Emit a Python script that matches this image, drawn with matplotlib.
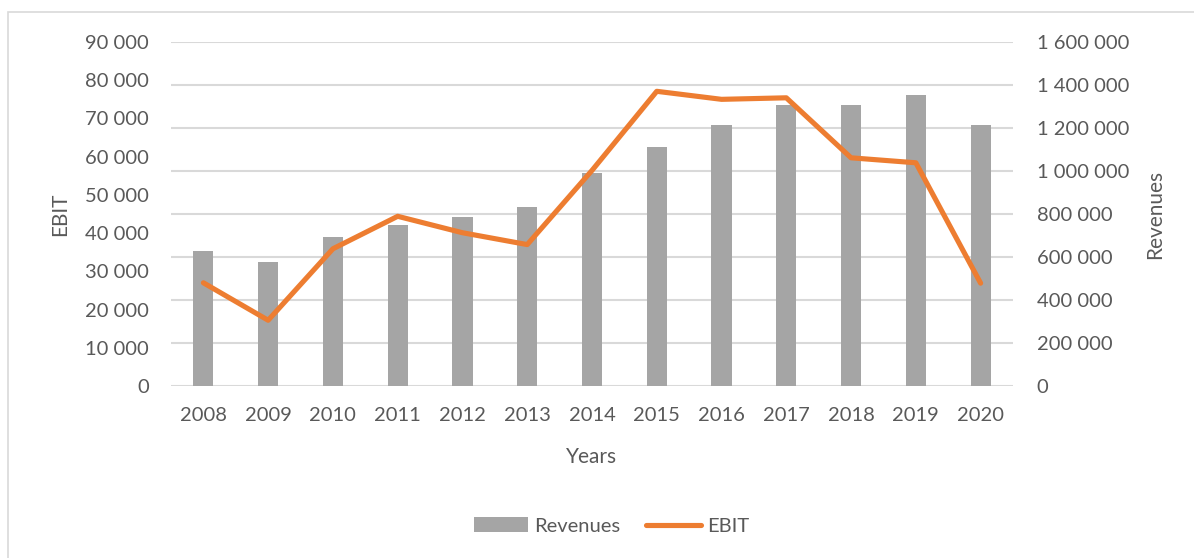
import numpy as np
import matplotlib.pyplot as plt
from matplotlib.patches import Rectangle, Patch
from matplotlib.lines import Line2D
from matplotlib.ticker import FuncFormatter

# 数据
years = ['2008', '2009', '2010', '2011', '2012', '2013', '2014',
         '2015', '2016', '2017', '2018', '2019', '2020']
revenues = [626000, 578000, 691000, 749000, 784000, 831000, 992000,
            1112000, 1212000, 1305000, 1309000, 1352000, 1212000]
ebit = [27000, 17200, 35900, 44400, 40100, 37000, 56400,
        77100, 75000, 75400, 59700, 58400, 26900]

plt.rcParams['font.family'] = ['Lato', 'DejaVu Sans']
txt_color = '#595959'
grid_color = '#d9d9d9'
bar_color = '#a5a5a5'
line_color = '#ed7d31'


def space_fmt(v, pos):
    return f'{int(round(v)):,}'.replace(',', ' ')


fig = plt.figure(figsize=(11.94, 5.58), dpi=100)
# 外框
fig.patches.append(Rectangle((8 / 1194, -0.1), 1.2, 1 - 12 / 558 + 0.1,
                             transform=fig.transFigure, fill=False,
                             edgecolor='#d9d9d9', linewidth=1.2))

ax = fig.add_axes([171 / 1194, 1 - 386 / 558, (1013 - 171) / 1194, (386 - 42) / 558])
ax2 = ax.twinx()

x = np.arange(len(years))

# 柱状图（右轴）
ax2.bar(x, revenues, width=0.31, color=bar_color, zorder=2)
ax2.set_ylim(0, 1600000)
ax2.set_yticks(np.arange(0, 1600001, 200000))

# 折线（左轴）在柱子上面
ax.set_zorder(ax2.get_zorder() + 1)
ax.patch.set_visible(False)
ax.plot(x, ebit, color=line_color, linewidth=3.7, solid_capstyle='round',
        solid_joinstyle='round', zorder=3)
ax.set_ylim(0, 90000)
ax.set_yticks(np.arange(0, 90001, 10000))
ax.set_xlim(-0.5, len(years) - 0.5)
ax.set_xticks(x)
ax.set_xticklabels(years)

# 网格线画在右轴下面
for v in np.arange(0, 1600001, 200000):
    ax2.axhline(v, color=grid_color, linewidth=1.5, zorder=1)

for a in (ax, ax2):
    for s in a.spines.values():
        s.set_visible(False)
    a.tick_params(length=0, labelsize=14.5, labelcolor=txt_color)
    a.yaxis.set_major_formatter(FuncFormatter(space_fmt))
ax.tick_params(axis='y', pad=16)
ax2.tick_params(axis='y', pad=17)
ax.tick_params(axis='x', pad=15)

ax.set_ylabel('EBIT', fontsize=15, color=txt_color, labelpad=11)
ax2.set_ylabel('Revenues', fontsize=15, color=txt_color, labelpad=11.5)
ax.set_xlabel('Years', fontsize=15, color=txt_color, labelpad=17)

handles = [Patch(facecolor=bar_color, edgecolor='none'),
           Line2D([0], [0], color=line_color, linewidth=3.7, solid_capstyle='round')]
leg = fig.legend(handles, ['Revenues', 'EBIT'], loc='center', ncol=2,
                 bbox_to_anchor=(0.512, 1 - 526 / 558), frameon=False,
                 fontsize=14.5, handlelength=2.7, handletextpad=0.3,
                 columnspacing=1.3)
for t in leg.get_texts():
    t.set_color(txt_color)

fig.savefig('out.png', dpi=100)
